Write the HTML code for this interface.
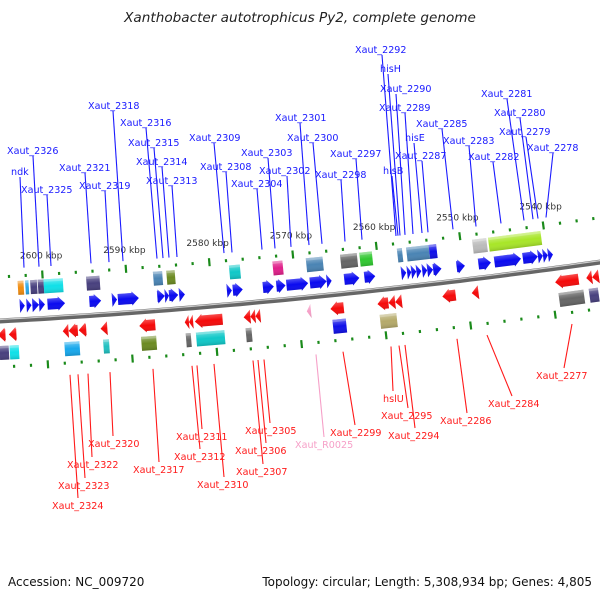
<!DOCTYPE html>
<html><head><meta charset="utf-8"><style>
html,body{margin:0;padding:0;background:#fff;width:600px;height:600px;overflow:hidden}
svg{display:block;font-family:"DejaVu Sans","Liberation Sans",sans-serif}
</style></head><body>
<svg id="map" width="600" height="600" viewBox="0 0 600 600" xmlns="http://www.w3.org/2000/svg">
<defs>
<linearGradient id="bb" x1="0" y1="0" x2="0" y2="1"><stop offset="0" stop-color="#ccc"/><stop offset="0.4" stop-color="#555"/><stop offset="1" stop-color="#999"/></linearGradient>
<linearGradient id="sh" x1="0" y1="0" x2="0" y2="1"><stop offset="0" stop-color="#fff" stop-opacity="0.35"/><stop offset="0.5" stop-color="#fff" stop-opacity="0"/><stop offset="1" stop-color="#000" stop-opacity="0.15"/></linearGradient>
</defs>
<text x="300" y="22" text-anchor="middle" font-size="13.6" font-style="italic" fill="#222">Xanthobacter autotrophicus Py2, complete genome</text>
<g id="features"></g>
<g id="labels"></g>
<text x="8" y="586" font-size="12" fill="#111">Accession: NC_009720</text>
<text x="592" y="586" text-anchor="end" font-size="12" fill="#111">Topology: circular; Length: 5,308,934 bp; Genes: 4,805</text>
</svg>
<script>
const fwdArrows=[[2602.9,2602.3],[2602.1,2601.5],[2601.4,2600.6],[2600.6,2599.9],[2599.6,2597.5],[2594.6,2593.2],[2591.9,2591.3],[2591.2,2588.7],[2586.5,2585.6],[2585.6,2585.1],[2585.1,2584.0],[2583.9,2583.2],[2578.2,2577.6],[2577.5,2576.3],[2573.9,2572.6],[2572.3,2571.2],[2571.1,2568.5],[2568.3,2566.3],[2566.3,2565.7],[2564.2,2562.4],[2561.8,2560.5],[2557.4,2556.8],[2556.7,2556.2],[2556.2,2555.6],[2555.6,2555.0],[2554.9,2554.3],[2554.3,2553.6],[2553.6,2552.6],[2550.8,2549.8],[2548.2,2546.7],[2546.3,2543.1],[2542.9,2541.1],[2541.1,2540.5],[2540.5,2539.9],[2539.9,2539.3]];
const fwdBoxes=[[2603.0,2602.3],[2602.1,2601.7],[2601.5,2600.7],[2600.6,2599.9],[2599.9,2597.6],[2594.8,2593.2],[2586.8,2585.7],[2585.2,2584.2],[2577.7,2576.4],[2572.5,2571.3],[2568.5,2566.5],[2564.4,2562.4],[2562.1,2560.6],[2557.6,2557.0],[2556.5,2553.8],[2553.8,2552.9],[2548.6,2546.9],[2546.7,2540.4]];
const fwdBoxColors=["#f08c10","#2aa8e8","#48407e","#48407e","#10e0e8","#48407e","#4a84b4","#6b8a22","#10c8c8","#e0208a","#4a84b4","#666666","#30c830","#4a84b4","#4a84b4","#1010e8","#bbbbbb","#a8e628"];
const revArrows=[[2605.7,2604.8],[2604.4,2603.5],[2598.0,2597.3],[2597.3,2596.2],[2596.1,2595.2],[2593.5,2592.7],[2588.9,2587.0],[2583.5,2583.0],[2583.0,2582.5],[2582.3,2579.0],[2576.5,2575.7],[2575.7,2575.1],[2575.1,2574.5],[2566.2,2564.6],[2560.6,2559.3],[2559.3,2558.5],[2558.5,2557.7],[2552.9,2551.3],[2549.4,2548.6],[2539.5,2536.7],[2535.8,2535.1],[2535.1,2534.3]];
const trnaArrows=[[2569.0,2568.5]];
const revBoxes=[[2605.6,2604.5],[2604.4,2603.3],[2597.9,2596.1],[2593.3,2592.6],[2588.8,2587.0],[2583.5,2582.9],[2582.3,2578.9],[2576.4,2575.7],[2566.1,2564.5],[2560.5,2558.5],[2539.3,2536.3],[2535.7,2534.6]];
const revBoxColors=["#48407e","#10e0e8","#18a8ec","#20c0c0","#6b8a22","#666666","#10c8c8","#666666","#1010e8","#b5aa6a","#666666","#48407e"];
const tickStart=2534, tickEnd=2606, tickStep=2, majorStep=10;
const topNames=["Xaut_2292","hisH","Xaut_2290","Xaut_2289","Xaut_2285","hisE","Xaut_2287","hisB","Xaut_2283","Xaut_2282","Xaut_2281","Xaut_2280","Xaut_2279","Xaut_2278","Xaut_2301","Xaut_2300","Xaut_2297","Xaut_2298","Xaut_2302","Xaut_2303","Xaut_2304","Xaut_2309","Xaut_2308","Xaut_2318","Xaut_2316","Xaut_2315","Xaut_2314","Xaut_2313","Xaut_2326","ndk","Xaut_2325","Xaut_2321","Xaut_2319"];
const topTextPos=[[355,49],[380,68],[380,88],[379,107],[416,123],[405,137],[395,155],[383,170],[443,140],[468,156],[481,93],[494,112],[499,131],[527,147],[275,117],[287,137],[330,153],[315,174],[259,170],[241,152],[231,183],[189,137],[200,166],[88,105],[120,122],[128,142],[136,161],[146,180],[7,150],[11,171],[21,189],[59,167],[79,185]];
const topLine=[[382,396],[388,400],[396,405],[405,413],[442,453],[414,422],[422,428],[392,398],[469,476],[493,501],[507,524],[520,533],[526,538],[553,546],[300,309],[313,322],[356,362],[341,345],[287,291],[268,275],[257,262],[214,224],[226,232],[113,123],[146,157],[154,163],[162,169],[172,177],[33,39],[20,24],[47,51],[85,91],[105,109]];
const botNames=["Xaut_2277","Xaut_2284","Xaut_2286","Xaut_2294","Xaut_2295","hslU","Xaut_2299","Xaut_R0025","Xaut_2305","Xaut_2306","Xaut_2307","Xaut_2311","Xaut_2312","Xaut_2310","Xaut_2317","Xaut_2320","Xaut_2322","Xaut_2323","Xaut_2324"];
const botTextPos=[[536,375],[488,403],[440,420],[388,435],[381,415],[383,398],[330,432],[295,444],[245,430],[235,450],[236,471],[176,436],[174,456],[197,484],[133,469],[88,443],[67,464],[58,485],[52,505]];
const botLine=[[572,564],[487,512],[457,467],[405,415],[399,408],[391,393],[343,355],[316,324],[264,270],[258,266],[253,263],[197,202],[192,200],[214,224],[153,159],[110,113],[88,92],[78,85],[70,78]];

const NS="http://www.w3.org/2000/svg";
function B(x){return 321-0.055*x-7.2e-5*x*x;}
function dB(x){return -0.055-1.44e-4*x;}
function xs(k){return 45+(2600-k)*8.4;}
function pt(u,v){const s=dB(u),n=Math.sqrt(1+s*s);return [u+v*(-s)/n,B(u)+v/n];}
function mk(tag,attrs,parent){const e=document.createElementNS(NS,tag);for(const k in attrs)e.setAttribute(k,attrs[k]);parent.appendChild(e);return e;}
const F=document.getElementById('features'), L=document.getElementById('labels');

let d="M-10 "+B(-10).toFixed(1);
for(let x=0;x<=610;x+=10)d+=" L"+x+" "+B(x).toFixed(1);
const bbp=mk('path',{d:d,stroke:'#666','stroke-width':5,fill:'none'},F);


const bbh=mk('path',{d:d,stroke:'#ccc','stroke-width':1.2,fill:'none',transform:'translate(0,-1.5)'},F);



function grp(k1,k2){const u1=xs(k1),u2=xs(k2),uc=(u1+u2)/2,w=Math.abs(u2-u1);const ang=Math.atan(dB(uc))*180/Math.PI;const g=mk('g',{transform:`translate(${uc.toFixed(2)},${B(uc).toFixed(2)}) rotate(${ang.toFixed(2)})`},F);return [g,w];}
function arrow(k1,k2,vc,dir,color,name){const [g,w]=grp(k1,k2);
 const h=14,t=vc-h/2,b=vc+h/2,hl=Math.min(w,7),x0=-w/2,x1=w/2;let p;
 if(dir>0)p=[[x0,t+1.5],[x1-hl,t+1.5],[x1-hl,t],[x1,vc],[x1-hl,b],[x1-hl,b-1.5],[x0,b-1.5]];
 else p=[[x1,t+1.5],[x0+hl,t+1.5],[x0+hl,t],[x0,vc],[x0+hl,b],[x0+hl,b-1.5],[x1,b-1.5]];
 if(w<=7)p=dir>0?[[x0,t],[x1,vc],[x0,b]]:[[x1,t],[x0,vc],[x1,b]];
 const ps=p.map(q=>q[0].toFixed(1)+','+q[1].toFixed(1)).join(' ');
 mk('polygon',{points:ps,fill:color},g);mk('polygon',{points:ps,fill:'url(#sh)'},g);}
function box(k1,k2,vc,color,name){const [g,w]=grp(k1,k2);
 mk('rect',{x:-w/2,y:vc-7,width:w,height:14,fill:color},g);mk('rect',{x:-w/2,y:vc-7,width:w,height:14,fill:'url(#sh)'},g);
 mk('rect',{x:-w/2,y:vc-7,width:w,height:2.5,fill:'#fff','fill-opacity':0.25},g);}

fwdArrows.forEach((a,i)=>arrow(a[0],a[1],-14,1,'#0a0af0','forward-gene-'+i));
fwdBoxes.forEach((a,i)=>box(a[0],a[1],-32,fwdBoxColors[i],'forward-feature-'+i));
revArrows.forEach((a,i)=>arrow(a[0],a[1],14,-1,'#f50a0a','reverse-gene-'+i));
trnaArrows.forEach((a,i)=>arrow(a[0],a[1],14,-1,'#f6a0c8','trna-gene-'+i));
revBoxes.forEach((a,i)=>box(a[0],a[1],32,revBoxColors[i],'reverse-feature-'+i));

for(let k=tickStart;k<=tickEnd;k+=tickStep){
 const major=(k%majorStep===0);const u=xs(k);
 [-44,46].forEach(v=>{const [px,py]=pt(u,v);const hh=major?8:3;
  const r=mk('rect',{x:(px-1).toFixed(1),y:(py-hh/2).toFixed(1),width:2.2,height:hh,fill:'#1a8a1a',transform:`rotate(${(Math.atan(dB(u))*180/Math.PI).toFixed(1)},${px.toFixed(1)},${py.toFixed(1)})`},F);
  
  });
 if(major){const [px,py]=pt(u,-63);
  const t=mk('text',{x:px.toFixed(1),y:(py+3).toFixed(1),'text-anchor':'middle','font-size':9,fill:'#333'},F);t.textContent=k+' kbp';
  
  }
}

topNames.forEach((n,i)=>{const [tx,ty]=topTextPos[i],[lx,ex]=topLine[i];
 const ln=mk('line',{x1:lx,y1:ty+6,x2:ex,y2:(B(ex)-52).toFixed(1),stroke:'#1a1aff','stroke-width':1.1},L);
 
 
 const t=mk('text',{x:tx,y:ty+4,'font-size':9.6,fill:'#1a1aff'},L);t.textContent=n;
 
 });
botNames.forEach((n,i)=>{const [tx,ty]=botTextPos[i],[sx,lx]=botLine[i];const c=n==='Xaut_R0025'?'#f6a0c8':'#ff1a1a';
 const ln=mk('line',{x1:sx,y1:(B(sx)+58).toFixed(1),x2:lx,y2:ty-7,stroke:c,'stroke-width':1.1},L);
 
 
 const t=mk('text',{x:tx,y:ty+4,'font-size':9.6,fill:c},L);t.textContent=n;
 
 });
</script>
</body></html>
